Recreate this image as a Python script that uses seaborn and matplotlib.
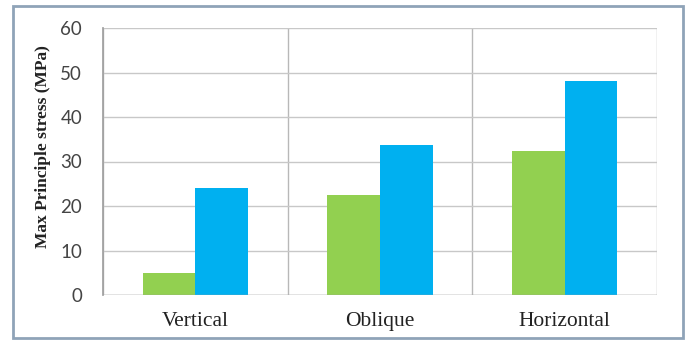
import pandas as pd
import matplotlib.pyplot as plt
import seaborn as sns
from matplotlib.patches import Rectangle

# data
categories = ['Vertical', 'Oblique', 'Horizontal']
series_names = ['Series 1', 'Series 2']
series_1 = [5.0, 22.5, 32.3]
series_2 = [24.0, 33.6, 48.2]
y_ticks = [0, 10, 20, 30, 40, 50, 60]

rows = []
for cat, a, b in zip(categories, series_1, series_2):
    rows.append({'cat': cat, 'series': series_names[0], 'value': a})
    rows.append({'cat': cat, 'series': series_names[1], 'value': b})
df = pd.DataFrame(rows)

sns.set_theme(style="white")

fig = plt.figure(figsize=(6.88, 3.45), dpi=100)
ax = fig.add_axes([103 / 688, 1 - 295 / 345, (657 - 103) / 688, (295 - 28) / 345])

sns.barplot(data=df, x='cat', y='value', hue='series', order=categories,
            palette=['#92D050', '#00B0F0'], width=0.57, saturation=1,
            edgecolor='none', linewidth=0, legend=False, ax=ax, zorder=3)

ax.set_ylim(0, 60)
ax.set_xlim(-0.5, 2.5)
ax.set_yticks(y_ticks)
ax.set_xticks(range(len(categories)))
ax.set_xticklabels(categories, family='Liberation Serif', fontsize=15.5, color='#222222')
ax.set_xticks([-0.5, 0.5, 1.5, 2.5], minor=True)
ax.tick_params(axis='x', which='major', length=0, pad=12)
ax.tick_params(axis='x', which='minor', length=5, color='#A0A0A0', width=1)
ax.tick_params(axis='y', length=5, color='#A0A0A0', width=1, pad=10,
               labelsize=13.5, labelcolor='#444444')
for lab in ax.get_yticklabels():
    lab.set_family('Lato')

ax.grid(axis='y', which='major', color='#C8C8C8', linewidth=1, zorder=0)
ax.grid(axis='x', which='minor', color='#B8B8B8', linewidth=1, zorder=0)
ax.grid(axis='x', which='major', visible=False)

for side in ['top', 'right', 'bottom']:
    ax.spines[side].set_visible(False)
ax.spines['left'].set_color('#A0A0A0')
ax.spines['left'].set_zorder(4)
ax.axhline(0, color='#A0A0A0', linewidth=1, zorder=4)

ax.set_xlabel('')
ax.set_ylabel('Max Principle stress (MPa)', family='Liberation Serif',
              fontweight='bold', fontsize=12.5, color='#222222')
ax.yaxis.set_label_coords(-52 / 554, (295 - 147) / 267)

# outer frame of the chart box
fig.patches.append(Rectangle((13 / 688, 1 - 338 / 345), (683 - 13) / 688, (338 - 6) / 345,
                             transform=fig.transFigure, fill=False,
                             edgecolor='#8FA3B8', linewidth=2))

fig.savefig('out.png', dpi=100)
